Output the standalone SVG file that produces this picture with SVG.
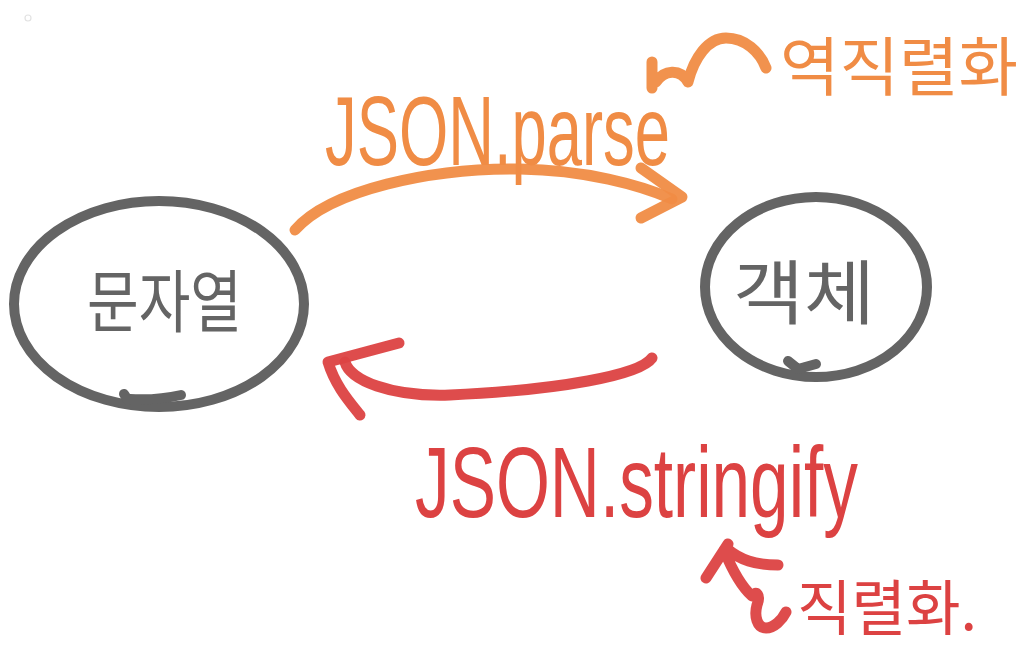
<svg xmlns="http://www.w3.org/2000/svg" width="1030" height="656" viewBox="0 0 1030 656">
<style>
.ink{fill:none;stroke-linecap:round;stroke-linejoin:round}
.gray{stroke:#646464;stroke-width:10}
.orange{stroke:#F08C45;stroke-width:11;opacity:0.95}
.red{stroke:#DC4242;stroke-width:11;opacity:0.95}
.kr{font-family:"Noto Sans CJK KR","Noto Sans",sans-serif;font-weight:400}
.en{font-family:"Liberation Sans","Noto Sans",sans-serif;font-weight:400}
</style>
<rect width="1030" height="656" fill="#ffffff"/>
<circle cx="28" cy="18" r="3" fill="none" stroke="#e2e2e2" stroke-width="1.2"/>
<g id="node-string">
<ellipse class="ink gray" cx="159" cy="304" rx="145" ry="103"/>
<path class="ink gray" d="M124 394 L128 400 M130 399 C150 400 168 398 181 395"/>
<text class="kr" x="87" y="327" font-size="68" fill="#646464" textLength="155" lengthAdjust="spacingAndGlyphs">문자열</text>
</g>
<g id="node-object">
<ellipse class="ink gray" cx="816" cy="287" rx="111" ry="90"/>
<path class="ink gray" d="M788 361 L798 369 L816 364"/>
<text class="kr" x="733" y="319" font-size="70" fill="#646464" textLength="142" lengthAdjust="spacingAndGlyphs">객체</text>
</g>
<g id="connectors">
<path class="ink orange" stroke-width="12" d="M295 230 C330 190 430 168 520 169 C585 170 640 185 672 199"/>
<path class="ink orange" d="M641 168 L682 197 L641 218"/>
<path class="ink red" stroke-width="12" d="M652 358 C640 375 560 390 450 395 C390 397 350 380 345 362"/>
<path class="ink red" d="M399 343 L328 362 C335 385 348 400 360 415"/>
<path class="ink orange" d="M652 62 L652 88 M656 82 C664 70 680 68 688 82 M688 82 C694 58 708 38 726 38 C745 38 760 52 766 68"/>
<path class="ink red" d="M728 544 L706 578 M726 548 C740 560 755 565 778 565 M724 550 C733 572 743 588 752 596 C756 590 761 595 757 605 C754 616 757 628 766 628 C774 628 782 620 786 612"/>
</g>
<g id="label-parse">
<text class="en" x="325" y="165" font-size="98" fill="#F08C45" textLength="345" lengthAdjust="spacingAndGlyphs">JSON.parse</text>
</g>
<g id="label-deserialize">
<text class="kr" x="780" y="90" font-size="64" fill="#F08C45" textLength="238" lengthAdjust="spacingAndGlyphs">역직렬화</text>
</g>
<g id="label-stringify">
<text class="en" x="415" y="517" font-size="100" fill="#DC4242" textLength="443" lengthAdjust="spacingAndGlyphs">JSON.stringify</text>
</g>
<g id="label-serialize">
<text class="kr" x="797" y="630" font-size="60" fill="#DC4242" textLength="180" lengthAdjust="spacingAndGlyphs">직렬화.</text>
</g>
</svg>
